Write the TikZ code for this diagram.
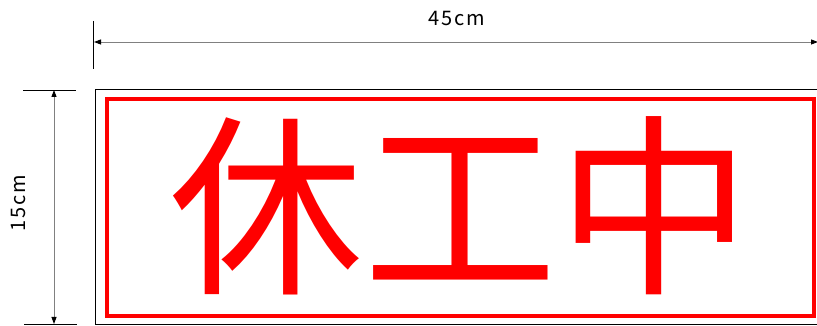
\documentclass[tikz,border=0pt]{standalone}
\usepackage{fontspec}
\newfontfamily\jp{Noto Sans CJK JP}
\usetikzlibrary{arrows.meta}
\tikzset{
  dimline/.style={draw=gray, line width=0.9pt, {Triangle[length=7pt,width=5pt,black]}-{Triangle[length=7pt,width=5pt,black]}},
  tickline/.style={draw=black, line width=0.9pt},
  dimlabel/.style={font=\jp\fontsize{20}{20}\selectfont, inner sep=0pt},
  signtext/.style={font=\jp\fontsize{194}{194}\selectfont, text=red, inner sep=0pt, outer sep=0pt},
}
\begin{document}
\begin{tikzpicture}[x=1pt,y=1pt]
\useasboundingbox (0,0) rectangle (817,326);
% outer board
\draw[black, line width=1pt] (95,1) rectangle (820,236);
% red frame
\draw[red, line width=4pt] (107,9.5) rectangle (814,227.3);
% horizontal dimension
\coordinate (hL) at (94,284);
\coordinate (hR) at (818,284);
\coordinate (tL1) at (93,305);
\coordinate (tL2) at (93,257);
\draw[tickline] (tL1) -- (tL2);
\draw[dimline] (hL) -- (hR);
\node[dimlabel] (w) at (457,307) {4\hspace{2pt}5\hspace{2pt}c\hspace{1.5pt}m};
% vertical dimension
\coordinate (vT) at (54,236);
\coordinate (vB) at (54,2);
\coordinate (tT1) at (23,236);
\coordinate (tT2) at (76,236);
\coordinate (tB1) at (24,2);
\coordinate (tB2) at (77,2);
\draw[tickline] (tT1) -- (tT2);
\draw[tickline] (tB1) -- (tB2);
\draw[dimline] (vT) -- (vB);
\node[dimlabel, rotate=90] (h) at (18,123) {1\hspace{2pt}5\hspace{2pt}c\hspace{1.5pt}m};
% sign text
\node[signtext] (sign) at (460,120) {休工中};
\end{tikzpicture}
\end{document}
